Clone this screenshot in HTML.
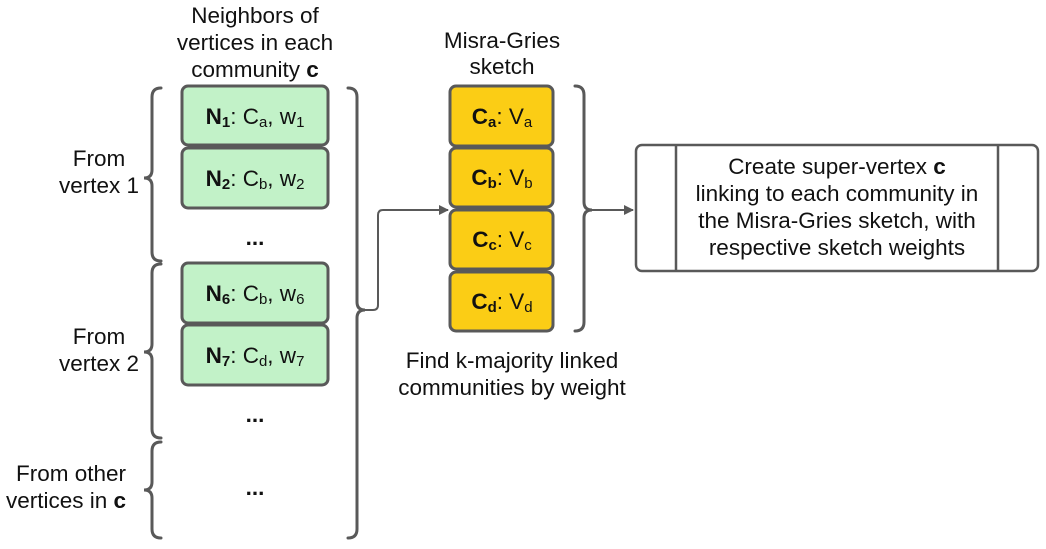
<!DOCTYPE html>
<html><head><meta charset="utf-8"><style>
html,body{margin:0;padding:0;background:#fff;width:1046px;height:549px;overflow:hidden}
svg{display:block}
text{font-family:"Liberation Sans",sans-serif;font-size:22.5px;fill:#111}
</style></head><body>
<svg width="1046" height="549" viewBox="0 0 1046 549" xmlns="http://www.w3.org/2000/svg">
<defs><marker id="ah" markerWidth="10" markerHeight="10" refX="9" refY="5" orient="auto" markerUnits="userSpaceOnUse"><path d="M0,0 L10,5 L0,10 z" fill="#595959"/></marker></defs>
<g text-anchor="middle">
<text x="255" y="23">Neighbors of</text>
<text x="255" y="50">vertices in each</text>
<text x="255" y="77">community <tspan font-weight="bold">c</tspan></text>
<text x="502" y="48">Misra-Gries</text>
<text x="502" y="74">sketch</text>
<text x="512" y="368">Find k-majority linked</text>
<text x="512" y="395">communities by weight</text>
<text x="99" y="166">From</text>
<text x="99" y="193">vertex 1</text>
<text x="99" y="344">From</text>
<text x="99" y="371">vertex 2</text>
</g>
<g text-anchor="end">
<text x="126" y="481">From other</text>
<text x="126" y="508">vertices in <tspan font-weight="bold">c</tspan></text>
</g>
<g fill="none" stroke="#595959" stroke-width="3" stroke-linecap="round">
<path d="M161 88 Q152 88 152 97 L152 170 Q152 178 144 178 Q152 178 152 186 L152 252 Q152 261 161 261"/>
<path d="M161 264 Q152 264 152 273 L152 344 Q152 352 144 352 Q152 352 152 360 L152 429 Q152 438 161 438"/>
<path d="M161 442 Q152 442 152 451 L152 482 Q152 490 144 490 Q152 490 152 498 L152 529 Q152 538 161 538"/>
<path d="M348 88 Q357 88 357 97 L357 302 Q357 310 365 310 Q357 310 357 318 L357 529 Q357 538 348 538"/>
<path d="M575 86 Q584 86 584 95 L584 202 Q584 210 592 210 Q584 210 584 218 L584 322 Q584 331 575 331"/>
</g>
<g fill="none" stroke="#595959" stroke-width="2">
<path d="M365 310 L373 310 Q378 310 378 305 L378 215 Q378 210 383 210 L448 210" marker-end="url(#ah)"/>
<path d="M592 210 L633 210" marker-end="url(#ah)"/>
</g>
<g stroke="#595959" stroke-width="3" fill="#c2f2c8">
<rect x="182" y="86" width="146" height="59" rx="6"/>
<rect x="182" y="148" width="146" height="60" rx="6"/>
<rect x="182" y="263" width="146" height="60" rx="6"/>
<rect x="182" y="325" width="146" height="60" rx="6"/>
</g>
<g stroke="#595959" stroke-width="3" fill="#fbcd15">
<rect x="450" y="86" width="103" height="60" rx="6"/>
<rect x="450" y="148" width="103" height="59" rx="6"/>
<rect x="450" y="210" width="103" height="59" rx="6"/>
<rect x="450" y="272" width="103" height="59" rx="6"/>
</g>
<g stroke="#595959" stroke-width="2.5" fill="#fff">
<rect x="636" y="145" width="402" height="126" rx="6"/>
<line x1="676" y1="145" x2="676" y2="271"/>
<line x1="998" y1="145" x2="998" y2="271"/>
</g>
<g text-anchor="middle">
<text x="255" y="124"><tspan font-weight="bold">N<tspan font-size="15" dy="3">1</tspan></tspan><tspan dy="-3">: C</tspan><tspan font-size="15" dy="3">a</tspan><tspan dy="-3">, w</tspan><tspan font-size="15" dy="3">1</tspan></text>
<text x="255" y="186"><tspan font-weight="bold">N<tspan font-size="15" dy="3">2</tspan></tspan><tspan dy="-3">: C</tspan><tspan font-size="15" dy="3">b</tspan><tspan dy="-3">, w</tspan><tspan font-size="15" dy="3">2</tspan></text>
<text x="255" y="301"><tspan font-weight="bold">N<tspan font-size="15" dy="3">6</tspan></tspan><tspan dy="-3">: C</tspan><tspan font-size="15" dy="3">b</tspan><tspan dy="-3">, w</tspan><tspan font-size="15" dy="3">6</tspan></text>
<text x="255" y="363"><tspan font-weight="bold">N<tspan font-size="15" dy="3">7</tspan></tspan><tspan dy="-3">: C</tspan><tspan font-size="15" dy="3">d</tspan><tspan dy="-3">, w</tspan><tspan font-size="15" dy="3">7</tspan></text>
<text x="255" y="245" font-weight="bold">...</text>
<text x="255" y="422" font-weight="bold">...</text>
<text x="255" y="495" font-weight="bold">...</text>
<text x="502" y="124"><tspan font-weight="bold">C<tspan font-size="15" dy="3">a</tspan></tspan><tspan dy="-3">: V</tspan><tspan font-size="15" dy="3">a</tspan></text>
<text x="502" y="185"><tspan font-weight="bold">C<tspan font-size="15" dy="3">b</tspan></tspan><tspan dy="-3">: V</tspan><tspan font-size="15" dy="3">b</tspan></text>
<text x="502" y="247"><tspan font-weight="bold">C<tspan font-size="15" dy="3">c</tspan></tspan><tspan dy="-3">: V</tspan><tspan font-size="15" dy="3">c</tspan></text>
<text x="502" y="309"><tspan font-weight="bold">C<tspan font-size="15" dy="3">d</tspan></tspan><tspan dy="-3">: V</tspan><tspan font-size="15" dy="3">d</tspan></text>
<text x="837" y="174">Create super-vertex <tspan font-weight="bold">c</tspan></text>
<text x="837" y="201">linking to each community in</text>
<text x="837" y="228">the Misra-Gries sketch, with</text>
<text x="837" y="255">respective sketch weights</text>
</g>
</svg>
</body></html>
